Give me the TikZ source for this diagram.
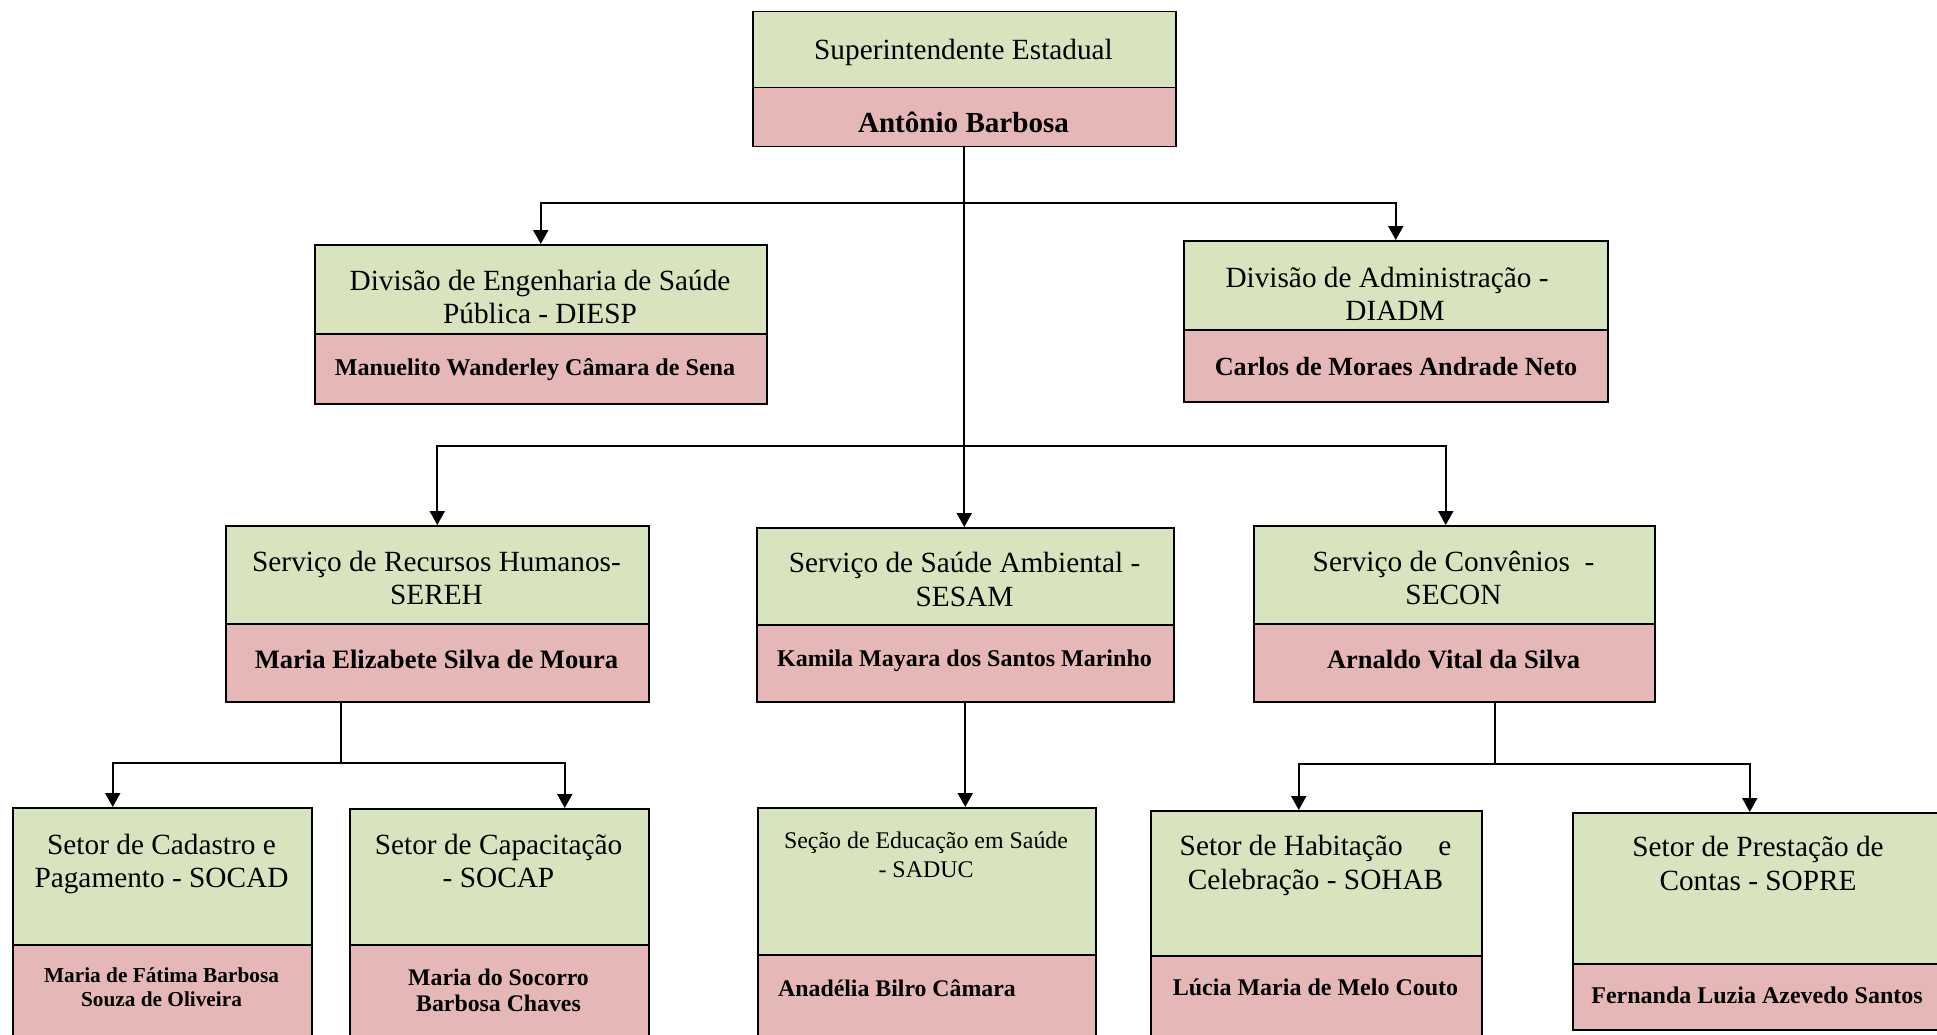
\documentclass[tikz,border=0pt]{standalone}
\usepackage{fontspec}
\setmainfont{Liberation Serif}
\usetikzlibrary{arrows.meta}
\definecolor{titlegreen}{HTML}{D7E4BD}
\definecolor{namepink}{HTML}{E5B8B7}
\newcommand\fsz[1]{\fontsize{#1}{#1}\selectfont}
% unit box: name, left, right, top, divider, bottom
\newcommand\orgbox[6]{%
  \node[gbox, minimum width={#3-#2}, minimum height={#5-#4}] (#1T) at (#2,#4) {};
  \node[pbox, minimum width={#3-#2}, minimum height={#6-#5}] (#1N) at (#2,#5) {};}
\begin{document}
\begin{tikzpicture}[x=1pt,y=-1pt,
  gbox/.style={draw=black, line width=1.5pt, fill=titlegreen, anchor=north west, inner sep=0pt},
  pbox/.style={draw=black, line width=1.5pt, fill=namepink, anchor=north west, inner sep=0pt},
  lbl/.style={anchor=base, inner sep=0pt},
  ln/.style={line width=2pt},
  arr/.style={line width=2pt, -{Triangle[width=15pt,length=14pt]}}]
\useasboundingbox (0,0) rectangle (1937,1035);
\clip (0,0) rectangle (1937,1035);

% boxes
\orgbox{sup}{752}{1175}{11}{87}{146}
\orgbox{diesp}{314}{766}{244}{333}{403}
\orgbox{diadm}{1183}{1607}{240}{329}{401}
\orgbox{sereh}{225}{648}{525}{623}{701}
\orgbox{ses}{756}{1173}{527}{624}{701}
\orgbox{secon}{1253}{1654}{525}{623}{701}
\orgbox{socad}{12}{311}{807}{944}{1060}
\orgbox{socap}{349}{648}{808}{944}{1060}
\orgbox{saduc}{757}{1095}{807}{954}{1060}
\orgbox{sohab}{1150}{1481}{810}{955}{1060}
\orgbox{sopre}{1572}{1944}{812}{963}{1029}

% texts
\node[lbl, font=\fsz{29.3}] (supA) at (963.5,60) {Superintendente Estadual};
\node[lbl, font=\fsz{29.1}\bfseries] (supB) at (963.5,133) {Antônio Barbosa};

\node[lbl, font=\fsz{29.3}] (diespA) at (540,290) {Divisão de Engenharia de Saúde};
\node[lbl, font=\fsz{29.3}] (diespB) at (540,323) {Pública - DIESP};
\node[lbl, font=\fsz{24.1}\bfseries] (diespC) at (535,375) {Manuelito Wanderley Câmara de Sena};

\node[lbl, font=\fsz{29.3}] (diadmA) at (1387,287) {Divisão de Administração -};
\node[lbl, font=\fsz{29.3}] (diadmB) at (1395,320) {DIADM};
\node[lbl, font=\fsz{26.2}\bfseries] (diadmC) at (1396,375) {Carlos de Moraes Andrade Neto};

\node[lbl, font=\fsz{29.3}] (serehA) at (436.5,571) {Serviço de Recursos Humanos-};
\node[lbl, font=\fsz{29.3}] (serehB) at (436.5,604) {SEREH};
\node[lbl, font=\fsz{26.6}\bfseries] (serehC) at (436.5,668) {Maria Elizabete Silva de Moura};

\node[lbl, font=\fsz{29.3}] (sesA) at (964.5,572) {Serviço de Saúde Ambiental -};
\node[lbl, font=\fsz{29.3}] (sesB) at (964.5,606) {SESAM};
\node[lbl, font=\fsz{24}\bfseries] (sesC) at (964.5,666) {Kamila Mayara dos Santos Marinho};

\node[lbl, font=\fsz{29.3}] (seconA) at (1453.5,571) {Serviço de Convênios\hspace{0.5em}-};
\node[lbl, font=\fsz{29.3}] (seconB) at (1453.5,604) {SECON};
\node[lbl, font=\fsz{26.5}\bfseries] (seconC) at (1453.5,668) {Arnaldo Vital da Silva};

\node[lbl, font=\fsz{29.3}] (socadA) at (161.5,854) {Setor de Cadastro e};
\node[lbl, font=\fsz{29.3}] (socadB) at (161.5,887) {Pagamento - SOCAD};
\node[lbl, font=\fsz{21.3}\bfseries] (socadC) at (161.5,982) {Maria de Fátima Barbosa};
\node[lbl, font=\fsz{21.3}\bfseries] (socadD) at (161.5,1006) {Souza de Oliveira};

\node[lbl, font=\fsz{29.3}] (socapA) at (498.5,854) {Setor de Capacitação};
\node[lbl, font=\fsz{29.3}] (socapB) at (498.5,887) {- SOCAP};
\node[lbl, font=\fsz{23.8}\bfseries] (socapC) at (498.5,985) {Maria do Socorro};
\node[lbl, font=\fsz{23.8}\bfseries] (socapD) at (498.5,1011) {Barbosa Chaves};

\node[lbl, font=\fsz{23.9}] (saducA) at (926,848) {Seção de Educação em Saúde};
\node[lbl, font=\fsz{23.9}] (saducB) at (926,877) {- SADUC};
\node[lbl, anchor=base west, font=\fsz{23.8}\bfseries] (saducC) at (778,996) {Anadélia Bilro Câmara};

\node[lbl, font=\fsz{29.3}] (sohabA) at (1315.5,855) {\hbox to 9.27em{Setor de Habitação\hfil e}};
\node[lbl, font=\fsz{29.3}] (sohabB) at (1315.5,889) {Celebração - SOHAB};
\node[lbl, font=\fsz{24}\bfseries] (sohabC) at (1315.5,995) {Lúcia Maria de Melo Couto};

\node[lbl, font=\fsz{29.3}] (sopreA) at (1758,856) {Setor de Prestação de};
\node[lbl, font=\fsz{29.3}] (sopreB) at (1758,890) {Contas - SOPRE};
\node[lbl, font=\fsz{24}\bfseries] (sopreC) at (1757,1003) {Fernanda Luzia Azevedo Santos};

% connectors: superintendent to divisions and services
\draw[arr] (supN.south) -- (supN.south |- sesT.north);
\draw[arr] (supN.south |- 0,203) -| (diespT.north);
\draw[arr] (supN.south |- 0,203) -| (diadmT.north);
\draw[arr] (supN.south |- 0,446) -| (serehT.north);
\draw[arr] (supN.south |- 0,446) -| ([xshift=-8.5pt]seconT.north);

% human resources to its sectors
\coordinate (serOut) at ([xshift=-96.5pt]serehN.south);
\draw[ln] (serOut) -- (serOut |- 0,763);
\draw[arr] (serOut |- 0,763) -| ([xshift=-49.5pt]socadT.north);
\draw[arr] (serOut |- 0,763) -| ([xshift=65.5pt]socapT.north);

% environmental health to education section
\draw[arr] (sesN.south) -- (sesN.south |- saducT.north);

% agreements to its sectors
\coordinate (secOut) at ([xshift=40.5pt]seconN.south);
\draw[ln] (secOut) -- (secOut |- 0,764);
\draw[arr] (secOut |- 0,764) -| ([xshift=-17.5pt]sohabT.north);
\draw[arr] (secOut |- 0,764) -| ([xshift=-9pt]sopreT.north);
\end{tikzpicture}
\end{document}
